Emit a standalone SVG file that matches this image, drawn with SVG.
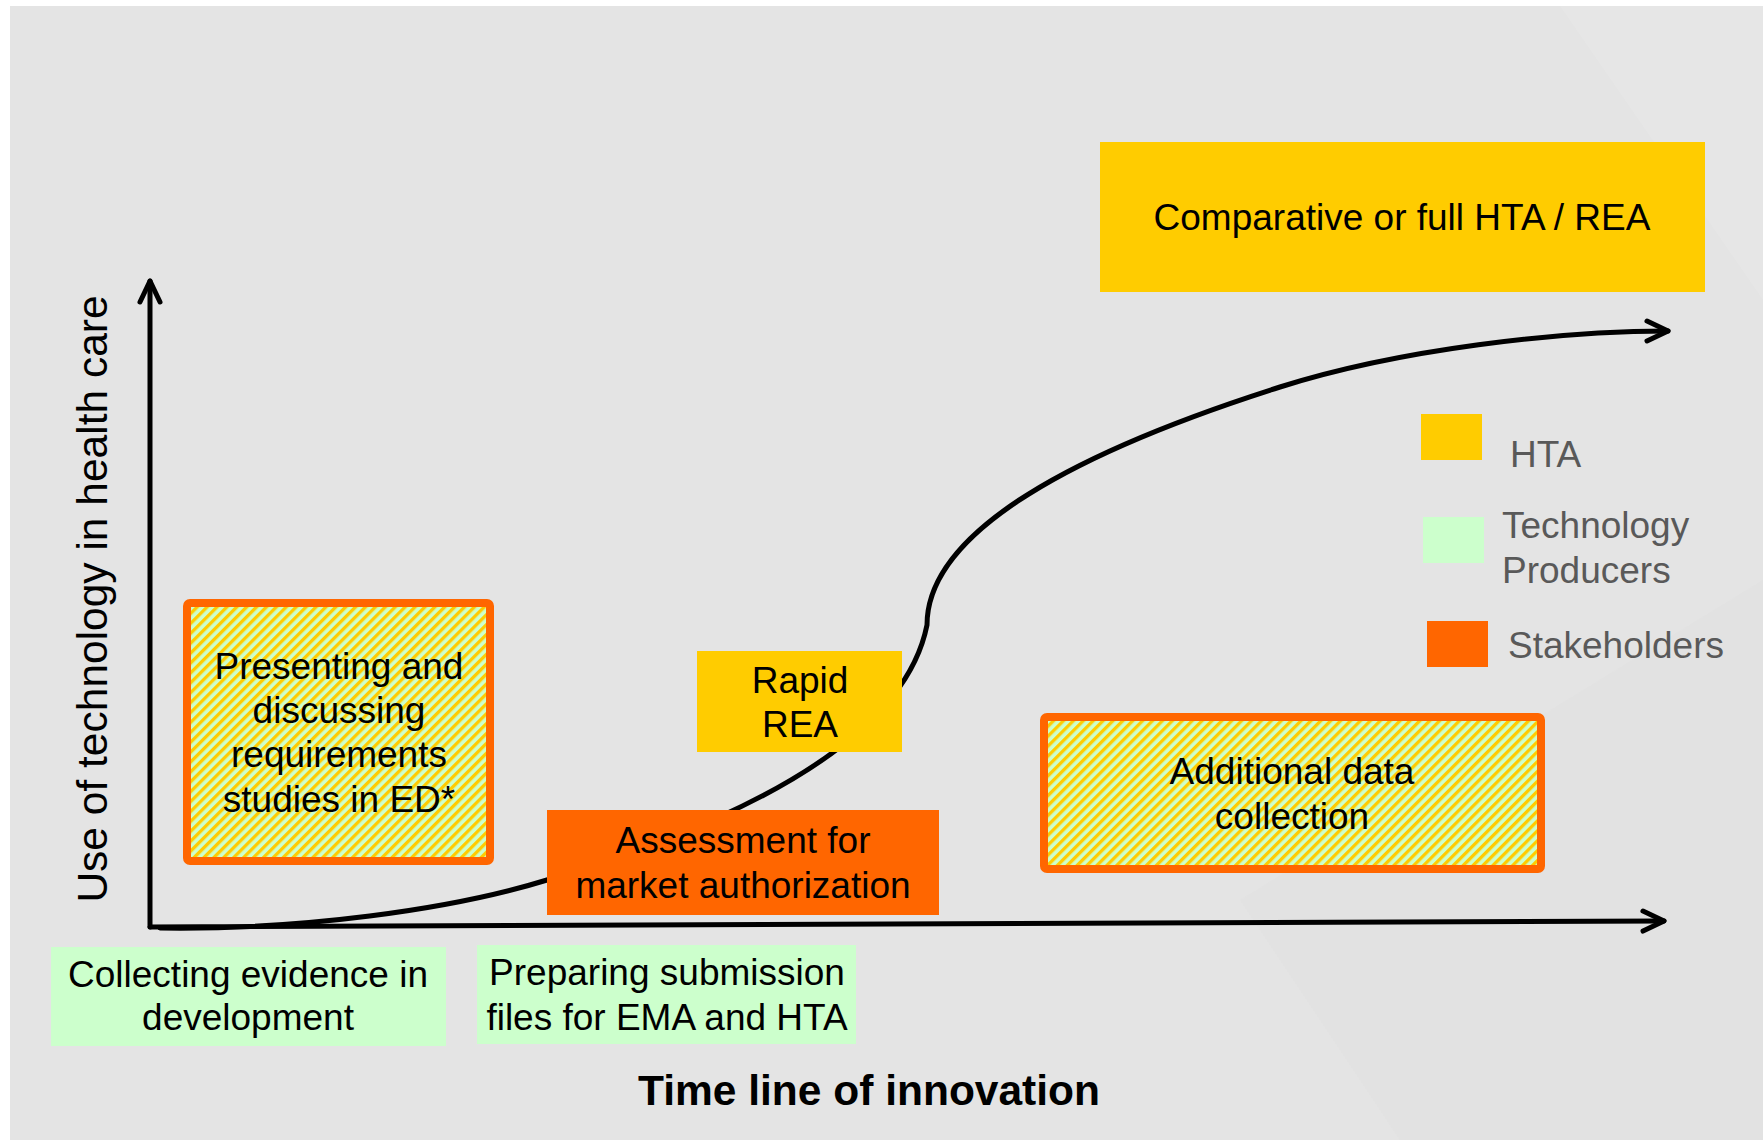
<svg xmlns="http://www.w3.org/2000/svg" width="1763" height="1140" viewBox="0 0 1763 1140">
<defs>
<style>
.t{font-family:"Liberation Sans",Arial,sans-serif;font-size:37px;fill:#000;text-anchor:middle}
.lg{font-family:"Liberation Sans",Arial,sans-serif;font-size:37px;fill:#595959}
.ax{fill:none;stroke:#000;stroke-width:5;stroke-linecap:round}
.hatch{fill:url(#stripes);stroke:#FF6600;stroke-width:8}
</style>
<pattern id="stripes" patternUnits="userSpaceOnUse" width="7" height="7" patternTransform="rotate(45)">
<rect width="7" height="7" fill="#CCFFCC"/>
<rect width="3.3" height="7" fill="#FFCC00"/>
</pattern>
<marker id="arr" markerUnits="userSpaceOnUse" markerWidth="34" markerHeight="34" viewBox="-28 -17 34 34" refX="0" refY="0" orient="auto" overflow="visible">
<path d="M-21,-10 L0,0 L-21,10" fill="none" stroke="#000" stroke-width="5" stroke-linecap="round" stroke-linejoin="round"/>
</marker>
</defs>
<rect width="1763" height="1140" fill="#FFFFFF"/>
<rect x="10" y="6" width="1753" height="1134" fill="#E4E4E4"/>
<polygon points="1560,6 1763,6 1763,300" fill="#E8E8E8" opacity="0.6"/>
<polygon points="1240,900 1763,580 1763,1140 1400,1140" fill="#E1E1E1" opacity="0.6"/>

<g id="connectors">
<line class="ax" x1="150" y1="927" x2="150" y2="281" marker-end="url(#arr)"/>
<line class="ax" x1="150" y1="927" x2="1664" y2="921" marker-end="url(#arr)"/>
<path class="ax" d="M160,928 C300,930 450,910 547,880 C680,840 900,760 927,625 C927,540 1050,460 1280,387 C1400,349 1560,331 1668,331" marker-end="url(#arr)"/>
</g>

<g id="node-comparative">
<rect x="1100" y="142" width="605" height="150" fill="#FFCC00"/>
<text class="t" x="1402" y="230">Comparative or full HTA / REA</text>
</g>

<g id="node-presenting">
<rect class="hatch" x="187" y="603" width="303" height="258" rx="3"/>
<text class="t" x="339" y="679">Presenting and</text>
<text class="t" x="339" y="723">discussing</text>
<text class="t" x="339" y="767">requirements</text>
<text class="t" x="339" y="812">studies in ED*</text>
</g>

<g id="node-rapid">
<rect x="697" y="651" width="205" height="101" fill="#FFCC00"/>
<text class="t" x="800" y="693">Rapid</text>
<text class="t" x="800" y="737">REA</text>
</g>

<g id="node-assessment">
<rect x="547" y="810" width="392" height="105" fill="#FF6600"/>
<text class="t" x="743" y="853">Assessment for</text>
<text class="t" x="743" y="898">market authorization</text>
</g>

<g id="node-additional">
<rect class="hatch" x="1044" y="717" width="497" height="152" rx="3"/>
<text class="t" x="1292" y="784">Additional data</text>
<text class="t" x="1292" y="829">collection</text>
</g>

<g id="node-collecting">
<rect x="51" y="947" width="395" height="99" fill="#CCFFCC"/>
<text class="t" x="248" y="987">Collecting evidence in</text>
<text class="t" x="248" y="1030">development</text>
</g>

<g id="node-preparing">
<rect x="477" y="945" width="379" height="99" fill="#CCFFCC"/>
<text class="t" x="667" y="985">Preparing submission</text>
<text class="t" x="667" y="1030">files for EMA and HTA</text>
</g>

<g id="label-y">
<text class="t" transform="translate(107,599) rotate(-90)" style="font-size:42.5px">Use of technology in health care</text>
</g>

<g id="label-x">
<text class="t" x="869" y="1105" style="font-size:42.5px;font-weight:bold">Time line of innovation</text>
</g>

<g id="legend">
<rect x="1421" y="414" width="61" height="46" fill="#FFCC00"/>
<text class="lg" x="1510" y="467">HTA</text>
<rect x="1423" y="517" width="61" height="46" fill="#CCFFCC"/>
<text class="lg" x="1502" y="538">Technology</text>
<text class="lg" x="1502" y="583">Producers</text>
<rect x="1427" y="621" width="61" height="46" fill="#FF6600"/>
<text class="lg" x="1508" y="658">Stakeholders</text>
</g>
</svg>
